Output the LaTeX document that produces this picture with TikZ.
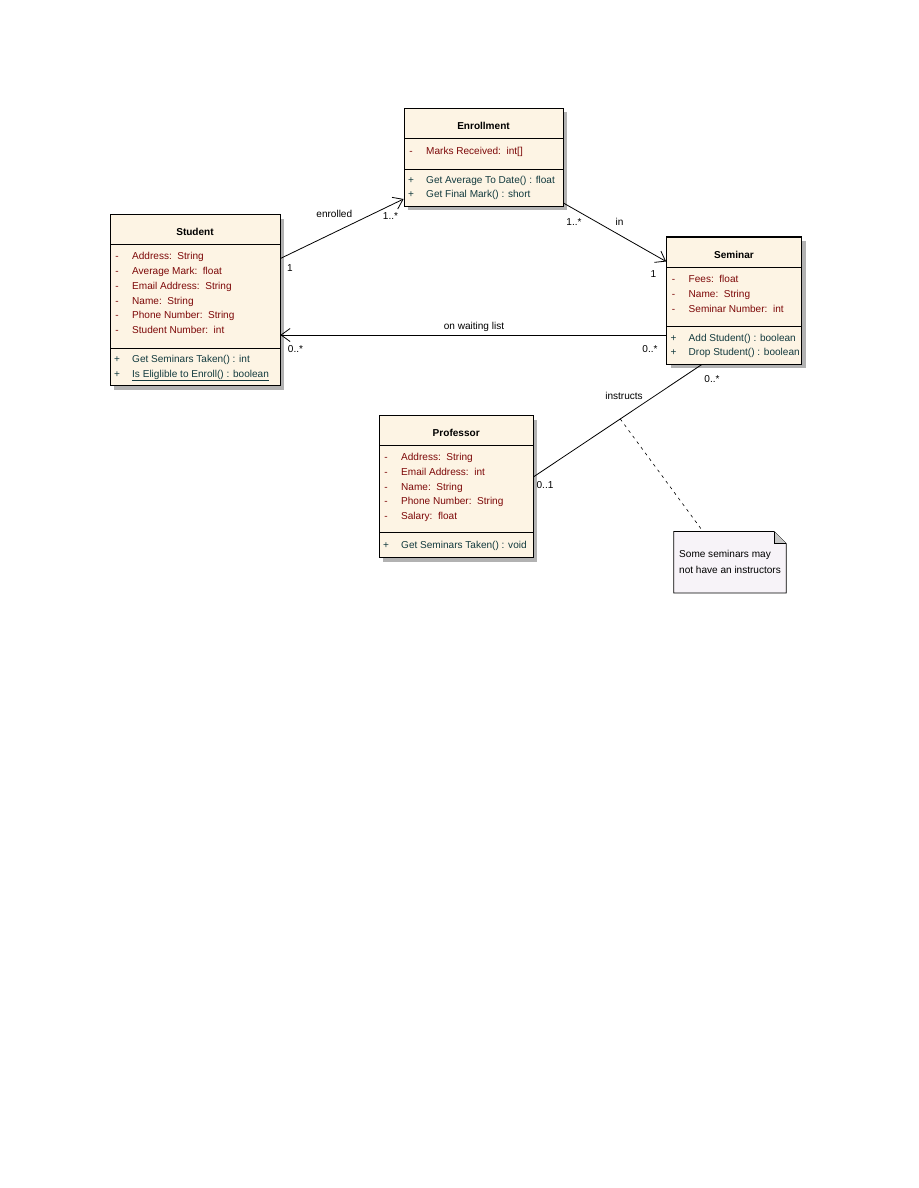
\documentclass[tikz,border=0pt]{standalone}
\usepackage{fontspec}
\setmainfont{Liberation Sans}
\usetikzlibrary{arrows.meta,shadows,calc,shapes.misc}
\definecolor{clsfill}{RGB}{253,244,228}
\definecolor{notefill}{RGB}{247,243,248}
\definecolor{attrcol}{RGB}{125,8,8}
\definecolor{methcol}{RGB}{18,58,62}
\definecolor{shadowcol}{RGB}{178,178,178}
\newcommand{\umlattr}[4]{% name, left x, y, text
  \node[symtext,text=attrcol] (#1s) at (#2+7,#3) {-};
  \node[membtext,text=attrcol] (#1) at (#2+22,#3) {#4};}
\newcommand{\umlmeth}[4]{%
  \node[symtext,text=methcol] (#1s) at (#2+7,#3) {+};
  \node[membtext,text=methcol] (#1) at (#2+22,#3) {#4};}
\begin{document}
\begin{tikzpicture}[x=1pt,y=-1pt,
  every node/.style={font=\fontsize{10.05}{12}\selectfont},
  classbox/.style={draw=black,line width=0.8pt,fill=clsfill,inner sep=0pt,
    drop shadow={shadow xshift=4pt,shadow yshift=-4pt,fill=shadowcol,opacity=1}},
  titletext/.style={font=\fontsize{10.05}{12}\selectfont\bfseries,inner sep=0pt},
  membtext/.style={anchor=west,inner sep=0pt,text height=7.3pt,text depth=2.1pt},
  symtext/.style={anchor=center,inner sep=0pt,text height=7.3pt,text depth=2.1pt},
  sep/.style={draw=black,line width=0.8pt},
  conn/.style={draw=black,line width=0.8pt},
  openarrow/.style={-{Straight Barb[length=9pt,width=13pt,line width=0.8pt]}},
  lbl/.style={inner sep=0pt,text=black},
]
\useasboundingbox[fill=white] (0,0) rectangle (918,1188);

% ---------------- Student
\node[classbox,minimum width=170pt,minimum height=171pt] (student) at (195,300.2) {};
\draw[sep] (110,244) -- (280,244);
\draw[sep] (110,348) -- (280,348);
\node[titletext] (studentT) at (195,231.5) {Student};
\umlattr{sa1}{110}{257.3}{Address:\ \ String}
\umlattr{sa2}{110}{272}{Average Mark:\ \ float}
\umlattr{sa3}{110}{286.7}{Email Address:\ \ String}
\umlattr{sa4}{110}{301.4}{Name:\ \ String}
\umlattr{sa5}{110}{316.1}{Phone Number:\ \ String}
\umlattr{sa6}{110}{330.8}{Student Number:\ \ int}
\umlmeth{sm1}{110}{359.8}{Get Seminars Taken() : int}
\umlmeth{sm2}{110}{374.6}{\underline{Is Eliglible to Enroll() : boolean}}

% ---------------- Enrollment
\node[classbox,minimum width=159pt,minimum height=98pt] (enroll) at (483.5,157.2) {};
\draw[sep] (404,138.3) -- (563,138.3);
\draw[sep] (404,169) -- (563,169);
\node[titletext] (enrollT) at (483.5,125.5) {Enrollment};
\umlattr{ea1}{404}{151.5}{Marks Received:\ \ int[]}
\umlmeth{em1}{404}{180.8}{Get Average To Date() : float}
\umlmeth{em2}{404}{195.3}{Get Final Mark() : short}

% ---------------- Seminar
\node[classbox,minimum width=135pt,minimum height=127.5pt] (seminar) at (734,300.4) {};
\draw[black,line width=1.8pt] (666.5,236.9) -- (801.5,236.9);
\draw[sep] (666.5,267.3) -- (801.5,267.3);
\draw[sep] (666.5,326.7) -- (801.5,326.7);
\node[titletext] (seminarT) at (734,254.5) {Seminar};
\umlattr{ca1}{666.5}{280.1}{Fees:\ \ float}
\umlattr{ca2}{666.5}{294.8}{Name:\ \ String}
\umlattr{ca3}{666.5}{309.5}{Seminar Number:\ \ int}
\umlmeth{cm1}{666.5}{338.5}{Add Student() : boolean}
\umlmeth{cm2}{666.5}{353.1}{Drop Student() : boolean}

% ---------------- Professor
\node[classbox,minimum width=154.3pt,minimum height=142pt] (prof) at (456.2,486.7) {};
\draw[sep] (379,445.7) -- (533.3,445.7);
\draw[sep] (379,532.7) -- (533.3,532.7);
\node[titletext] (profT) at (456.2,433.2) {Professor};
\umlattr{pa1}{379}{458.1}{Address:\ \ String}
\umlattr{pa2}{379}{472.8}{Email Address:\ \ int}
\umlattr{pa3}{379}{487.5}{Name:\ \ String}
\umlattr{pa4}{379}{502.1}{Phone Number:\ \ String}
\umlattr{pa5}{379}{516.7}{Salary:\ \ float}
\umlmeth{pm1}{379}{545.8}{Get Seminars Taken() : void}

% ---------------- Note
\node[inner sep=0pt,minimum width=112pt,minimum height=61pt] (note) at (730,562.2) {};
\draw[black,line width=0.7pt,fill=notefill]
  (note.north west) -- ($(note.north east)+(-12,0)$) -- ($(note.north east)+(0,12)$)
  -- (note.south east) -- (note.south west) -- cycle;
\fill[black!22] ($(note.north east)+(-12,0)$) -- ($(note.north east)+(-12,12)$) -- ($(note.north east)+(0,12)$) -- cycle;
\draw[black,line width=0.7pt] ($(note.north east)+(-12,0)$) -- ($(note.north east)+(-12,12)$) -- ($(note.north east)+(0,12)$);
\node[membtext] (noteL1) at (679,555) {Some seminars may};
\node[membtext] (noteL2) at (679,570.5) {not have an instructors};

% ---------------- Connectors
% enrolled
\coordinate (e1a) at (student.east |- 0,258.5);
\coordinate (e1b) at (enroll.west |- 0,199);
\draw[conn,openarrow] (e1a) -- (e1b);
\node[lbl] (enrolledL) at (334.3,214) {enrolled};
\node[lbl] (enrolledM1) at (390.5,215.7) {1..*};
\node[lbl] (enrolledM2) at (290,267.7) {1};

% in
\coordinate (e2a) at (enroll.east |- 0,203);
\coordinate (e2b) at (seminar.west |- 0,261.5);
\draw[conn,openarrow] (e2a) -- (e2b);
\node[lbl] (inL) at (619.5,222.2) {in};
\node[lbl] (inM1) at (574,222.2) {1..*};
\node[lbl] (inM2) at (653.5,274.2) {1};

% on waiting list
\coordinate (e3a) at (seminar.west |- 0,335);
\coordinate (e3b) at (student.east |- 0,335);
\draw[conn,openarrow] (e3a) -- (e3b);
\node[lbl] (waitL) at (474,326.7) {on waiting list};
\node[lbl] (waitM1) at (295.5,349) {0..*};
\node[lbl] (waitM2) at (650,349) {0..*};

% instructs
\coordinate (e4a) at (seminar.south -| 701.7,0);
\coordinate (e4b) at (prof.east |- 0,476.7);
\draw[conn] (e4a) -- (e4b);
\node[lbl] (instrL) at (624,395.7) {instructs};
\node[lbl] (instrM1) at (712,378.7) {0..*};
\node[lbl] (instrM2) at (545,485.2) {0..1};

% note anchor line
\coordinate (na) at ($(e4a)!0.485!(e4b)$);
\coordinate (nb) at (note.north -| 703,0);
\draw[black,line width=0.6pt,dash pattern=on 3pt off 4pt] (na) -- (nb);
\end{tikzpicture}
\end{document}
